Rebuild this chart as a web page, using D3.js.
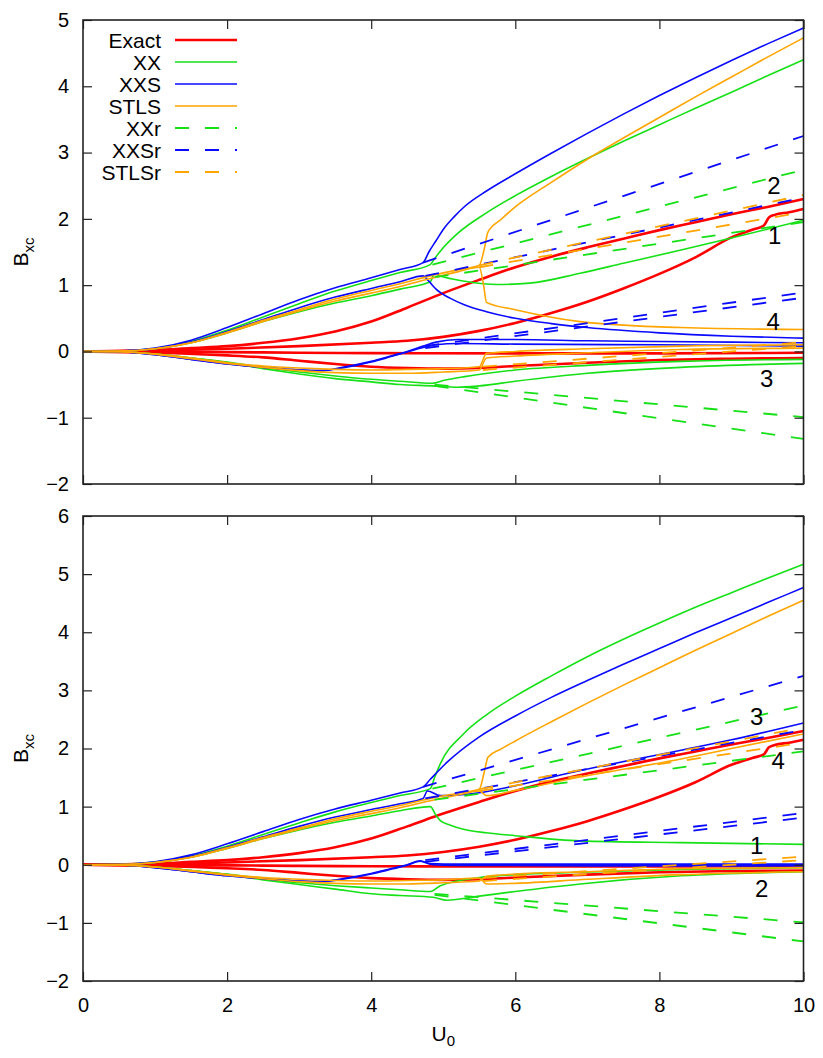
<!DOCTYPE html>
<html>
<head>
<meta charset="utf-8">
<script src="https://cdn.jsdelivr.net/npm/d3@7/dist/d3.min.js"></script>
<style>
  body { margin: 0; background: #fff; }
  text { font-family: "Liberation Sans", Arial, Helvetica, sans-serif; fill: #000; }
</style>
</head>
<body>
<svg id="chart" width="823" height="1058"></svg>
<script>
// ---- data (U0, Bxc) ----
const uTicks = [0, 2, 4, 6, 8, 10];
const topTicks = [-2, -1, 0, 1, 2, 3, 4, 5];
const botTicks = [-2, -1, 0, 1, 2, 3, 4, 5, 6];

// exact curves (same in both panels)
const exact1 = [[0,0],[1,0.02],[1.5,0.05],[2,0.08],[2.5,0.13],[3,0.2],[3.5,0.3],[4,0.45],[4.5,0.66],[5,0.88],[5.5,1.08],[6,1.27],[6.5,1.43],[7,1.57],[7.5,1.7],[8,1.83],[8.5,1.95],[9,2.07],[9.5,2.18],[10,2.3]];
const exact2 = [[0,0],[1,0.01],[2,0.04],[3,0.08],[4,0.13],[4.5,0.16],[5,0.22],[5.5,0.31],[6,0.43],[6.5,0.58],[7,0.75],[7.5,0.95],[8,1.17],[8.5,1.42],[9,1.72],[9.3,1.84],[9.45,1.9],[9.52,2.02],[9.6,2.06],[9.8,2.1],[10,2.15]];
const exact3 = [[0,0],[1,-0.005],[2,-0.01],[3,-0.02],[4,-0.025],[6,-0.03],[8,-0.03],[10,-0.02]];
const exact4 = [[0,0],[1,-0.02],[2,-0.06],[2.5,-0.09],[3,-0.14],[3.5,-0.19],[4,-0.23],[4.5,-0.25],[5,-0.26],[5.5,-0.25],[6,-0.22],[7,-0.17],[8,-0.13],[9,-0.11],[10,-0.1]];

// restricted (dashed) curves, same in both panels
const xxR1 = [[4.85,1.31],[10,2.74]];
const xxR2 = [[4.88,1.12],[10,1.95]];
const xxR3 = [[4.88,-0.5],[10,-0.99]];
const xxR4 = [[4.88,-0.52],[10,-1.32]];
const xxsR1 = [[4.72,1.34],[10,3.25]];
const xxsR2 = [[4.75,1.14],[10,2.32]];
const xxsR3 = [[4.75,0.08],[10,0.89]];
const xxsR4 = [[4.75,0.05],[10,0.81]];
const stlsR1 = [[5.5,1.3],[10,2.36]];
const stlsR2 = [[5.5,1.27],[10,2.1]];
const stlsR3 = [[5.55,-0.23],[10,0.14]];
const stlsR4 = [[5.55,-0.28],[10,0.08]];

// top panel, unrestricted
const xxTop1 = [[0,0],[0.5,0.005],[1,0.045],[1.5,0.15],[2,0.32],[2.5,0.52],[3,0.72],[3.5,0.91],[4,1.07],[4.4,1.19],[4.82,1.31],[4.88,1.4],[4.95,1.5],[5.2,1.78],[5.6,2.09],[6,2.35],[6.5,2.64],[7,2.91],[7.5,3.17],[8,3.42],[8.5,3.67],[9,3.91],[9.5,4.16],[10,4.4]];
const xxTop2 = [[0,0],[0.5,0.004],[1,0.04],[1.5,0.13],[2,0.28],[2.5,0.45],[3,0.6],[3.5,0.73],[4,0.84],[4.4,0.94],[4.82,1.05],[4.88,1.17],[4.95,1.14],[5.3,1.06],[5.75,1.01],[6.2,1.03],[6.9,1.18],[7.5,1.33],[8.3,1.53],[9,1.71],[10,1.98]];
const xxTop3 = [[0,0],[0.5,-0.004],[1,-0.04],[1.5,-0.1],[2,-0.16],[2.5,-0.24],[3,-0.31],[3.5,-0.37],[4,-0.42],[4.4,-0.45],[4.85,-0.48],[5,-0.44],[5.3,-0.38],[6,-0.28],[7,-0.21],[8.3,-0.15],[10,-0.12]];
const xxTop4 = [[0,0],[0.5,-0.004],[1,-0.04],[1.5,-0.1],[2,-0.17],[2.5,-0.26],[3,-0.34],[3.5,-0.41],[4,-0.46],[4.4,-0.5],[4.85,-0.52],[5.2,-0.54],[5.5,-0.52],[6,-0.45],[7,-0.33],[8.3,-0.24],[10,-0.18]];
const xxsTop1 = [[0,0],[0.5,0.005],[1,0.05],[1.5,0.17],[2,0.36],[2.5,0.57],[3,0.78],[3.5,0.96],[4,1.11],[4.4,1.235],[4.72,1.34],[4.8,1.5],[4.9,1.67],[5,1.84],[5.15,2.03],[5.3,2.19],[5.6,2.42],[6,2.68],[6.5,2.99],[7,3.29],[7.5,3.58],[8,3.86],[8.5,4.13],[9,4.39],[9.5,4.64],[10,4.88]];
const xxsTop2 = [[0,0],[0.5,0.005],[1,0.04],[1.5,0.14],[2,0.3],[2.5,0.48],[3,0.66],[3.5,0.82],[4,0.95],[4.4,1.05],[4.72,1.14],[4.8,1.06],[4.9,0.94],[5.1,0.8],[5.3,0.7],[5.6,0.6],[6,0.5],[6.5,0.42],[7,0.36],[8,0.28],[9,0.23],[10,0.2]];
const xxsTop3 = [[0,0],[0.5,-0.005],[1,-0.05],[1.5,-0.12],[2,-0.19],[2.5,-0.24],[3,-0.28],[3.3,-0.29],[3.6,-0.24],[4,-0.15],[4.3,-0.06],[4.5,0],[4.72,0.08],[4.9,0.14],[5.2,0.18],[6,0.18],[7,0.16],[8,0.15],[10,0.13]];
const xxsTop4 = [[0,0],[0.5,-0.005],[1,-0.05],[1.5,-0.12],[2,-0.19],[2.5,-0.24],[3,-0.28],[3.3,-0.29],[3.6,-0.25],[4,-0.16],[4.3,-0.07],[4.5,-0.01],[4.72,0.06],[4.9,0.1],[5.2,0.12],[6,0.11],[8,0.1],[10,0.08]];
const stlsTop1 = [[0,0],[0.5,0.004],[1,0.04],[1.5,0.13],[2,0.29],[2.5,0.47],[3,0.63],[3.5,0.79],[4,0.92],[4.4,1.02],[4.82,1.14],[5.2,1.23],[5.5,1.3],[5.57,1.55],[5.62,1.8],[5.8,1.99],[6,2.18],[6.5,2.55],[7,2.9],[7.5,3.22],[8,3.53],[8.5,3.84],[9,4.14],[9.5,4.44],[10,4.73]];
const stlsTop2 = [[0,0],[0.5,0.004],[1,0.04],[1.5,0.13],[2,0.28],[2.5,0.45],[3,0.61],[3.5,0.76],[4,0.88],[4.4,0.98],[4.82,1.1],[5.2,1.2],[5.5,1.27],[5.56,1.0],[5.6,0.74],[6,0.63],[6.9,0.45],[8.3,0.36],[10,0.33]];
const stlsTop3 = [[0,0],[0.5,-0.004],[1,-0.04],[1.5,-0.1],[2,-0.17],[2.5,-0.22],[3,-0.25],[3.5,-0.27],[4,-0.28],[4.5,-0.27],[5,-0.26],[5.5,-0.23],[5.6,-0.03],[6,0],[7,0.04],[8.3,0.08],[10,0.1]];
const stlsTop4 = [[0,0],[0.5,-0.004],[1,-0.04],[1.5,-0.11],[2,-0.18],[2.5,-0.24],[3,-0.29],[3.5,-0.32],[4,-0.33],[4.5,-0.33],[5,-0.31],[5.5,-0.28],[5.6,-0.1],[6,-0.07],[7,-0.02],[8.3,0.03],[10,0.05]];

// bottom panel, unrestricted
const xxBot1 = [[0,0],[0.5,0.005],[1,0.045],[1.5,0.15],[2,0.32],[2.5,0.52],[3,0.72],[3.5,0.91],[4,1.07],[4.4,1.19],[4.82,1.31],[4.88,1.5],[4.96,1.74],[5.28,2.25],[5.6,2.58],[6,2.9],[6.5,3.25],[7,3.58],[7.5,3.88],[8,4.16],[8.5,4.43],[9,4.68],[9.5,4.93],[10,5.17]];
const xxBot2 = [[0,0],[0.5,0.004],[1,0.04],[1.5,0.13],[2,0.28],[2.5,0.45],[3,0.6],[3.5,0.73],[4,0.84],[4.4,0.93],[4.82,1.0],[4.9,0.85],[4.96,0.76],[5.1,0.68],[5.28,0.61],[5.6,0.55],[6,0.5],[6.9,0.41],[8.3,0.38],[10,0.35]];
const xxBot3 = [[0,0],[0.5,-0.004],[1,-0.04],[1.5,-0.1],[2,-0.16],[2.5,-0.24],[3,-0.31],[3.5,-0.36],[4,-0.4],[4.4,-0.43],[4.82,-0.46],[4.96,-0.36],[5.5,-0.22],[6,-0.17],[6.9,-0.13],[8.3,-0.08],[10,-0.05]];
const xxBot4 = [[0,0],[0.5,-0.004],[1,-0.04],[1.5,-0.1],[2,-0.17],[2.5,-0.26],[3,-0.34],[3.5,-0.42],[4,-0.5],[4.4,-0.53],[4.86,-0.56],[5.05,-0.61],[5.5,-0.54],[6,-0.46],[6.9,-0.33],[8.3,-0.19],[10,-0.12]];
const xxsBot1 = [[0,0],[0.5,0.005],[1,0.05],[1.5,0.17],[2,0.36],[2.5,0.57],[3,0.78],[3.5,0.96],[4,1.11],[4.4,1.235],[4.72,1.34],[4.82,1.47],[5.05,1.76],[5.5,2.2],[6,2.56],[6.5,2.88],[7,3.17],[7.5,3.45],[8,3.72],[8.5,3.99],[9,4.25],[9.5,4.51],[10,4.77]];
const xxsBot2 = [[0,0],[0.5,0.005],[1,0.04],[1.5,0.14],[2,0.3],[2.5,0.48],[3,0.66],[3.5,0.82],[4,0.95],[4.4,1.05],[4.72,1.14],[4.78,1.27],[4.96,1.19],[5.5,1.24],[6,1.36],[6.9,1.62],[8.3,1.97],[9,2.15],[10,2.44]];
const xxsBot3 = [[0,0],[0.5,-0.005],[1,-0.05],[1.5,-0.12],[2,-0.19],[2.5,-0.24],[3,-0.28],[3.3,-0.29],[3.6,-0.24],[4,-0.15],[4.3,-0.06],[4.5,0],[4.68,0.07],[4.82,0.02],[5.2,0.01],[8,0.01],[10,0.01]];
const xxsBot4 = [[0,0],[0.5,-0.005],[1,-0.05],[1.5,-0.12],[2,-0.19],[2.5,-0.24],[3,-0.28],[3.3,-0.29],[3.6,-0.25],[4,-0.16],[4.3,-0.07],[4.5,-0.01],[4.68,0.06],[4.85,0],[5.2,-0.01],[8,-0.02],[10,-0.02]];
const stlsBot1 = [[0,0],[0.5,0.004],[1,0.04],[1.5,0.13],[2,0.29],[2.5,0.47],[3,0.63],[3.5,0.79],[4,0.92],[4.4,1.02],[4.82,1.14],[5.2,1.23],[5.5,1.3],[5.57,1.6],[5.62,1.85],[5.8,1.99],[6,2.13],[6.5,2.46],[7,2.78],[7.5,3.09],[8,3.39],[8.5,3.69],[9,3.98],[9.5,4.27],[10,4.55]];
const stlsBot2 = [[0,0],[0.5,0.004],[1,0.04],[1.5,0.13],[2,0.28],[2.5,0.45],[3,0.61],[3.5,0.76],[4,0.88],[4.4,0.98],[4.82,1.1],[5.2,1.2],[5.5,1.27],[5.6,1.19],[6,1.28],[6.9,1.51],[8.3,1.82],[9,2.0],[10,2.25]];
const stlsBot3 = [[0,0],[0.5,-0.004],[1,-0.04],[1.5,-0.1],[2,-0.17],[2.5,-0.22],[3,-0.25],[3.5,-0.27],[4,-0.28],[4.5,-0.27],[5,-0.26],[5.5,-0.23],[5.6,-0.33],[6,-0.32],[7,-0.25],[8.3,-0.17],[10,-0.12]];
const stlsBot4 = [[0,0],[0.5,-0.004],[1,-0.04],[1.5,-0.11],[2,-0.18],[2.5,-0.24],[3,-0.29],[3.5,-0.32],[4,-0.33],[4.5,-0.33],[5,-0.31],[5.5,-0.28],[5.6,-0.2],[6,-0.16],[7,-0.12],[8.3,-0.07],[10,-0.05]];

// state labels [text, U0, Bxc]
const topLabels = [["2",9.59,2.5],["1",9.6,1.75],["4",9.58,0.46],["3",9.49,-0.4]];
const botLabels = [["3",9.35,2.55],["4",9.65,1.79],["1",9.35,0.33],["2",9.42,-0.4]];

const legendNames = ["Exact", "XX", "XXS", "STLS", "XXr", "XXSr", "STLSr"];

// ---- styles ----
const RED = "#ff0000", GREEN = "#16e016", BLUE = "#0a0aff", ORANGE = "#ffa500";
const styles = {
  Exact: { color: RED, width: 2.6, dash: null },
  XX: { color: GREEN, width: 1.6, dash: null },
  XXS: { color: BLUE, width: 1.6, dash: null },
  STLS: { color: ORANGE, width: 1.6, dash: null },
  XXr: { color: GREEN, width: 1.8, dash: "14,16" },
  XXSr: { color: BLUE, width: 1.8, dash: "14,16" },
  STLSr: { color: ORANGE, width: 1.8, dash: "14,16" }
};

const exactAll = [exact1, exact2, exact3, exact4];
const restricted = {
  XXr: [xxR1, xxR2, xxR3, xxR4],
  XXSr: [xxsR1, xxsR2, xxsR3, xxsR4],
  STLSr: [stlsR1, stlsR2, stlsR3, stlsR4]
};

const svg = d3.select("#chart");
const x = d3.scaleLinear().domain([0, 10]).range([83, 803.5]);

function drawPanel(yDomain, yRange, ticks, series, labels, opts) {
  const y = d3.scaleLinear().domain(yDomain).range(yRange);
  const g = svg.append("g");
  const line = d3.line()
    .x(d => x(d[0]))
    .y(d => y(d[1]))
    .curve(d3.curveMonotoneX);

  // curves in legend order
  legendNames.forEach(name => {
    const st = styles[name];
    (series[name] || []).forEach(data => {
      g.append("path")
        .datum(data)
        .attr("d", line)
        .attr("fill", "none")
        .attr("stroke", st.color)
        .attr("stroke-width", st.width)
        .attr("stroke-dasharray", st.dash)
        .attr("stroke-linejoin", "round");
    });
  });

  // axes with inward ticks
  const left = g.append("g")
    .attr("transform", `translate(${x.range()[0]},0)`)
    .call(d3.axisLeft(y).tickValues(ticks).tickSize(-9).tickPadding(14).tickFormat(d3.format("d")));
  const right = g.append("g")
    .attr("transform", `translate(${x.range()[1]},0)`)
    .call(d3.axisRight(y).tickValues(ticks).tickSize(-9).tickFormat(""));
  const top = g.append("g")
    .attr("transform", `translate(0,${yRange[1]})`)
    .call(d3.axisTop(x).tickValues(uTicks).tickSize(-9).tickFormat(""));
  const bottom = g.append("g")
    .attr("transform", `translate(0,${yRange[0]})`)
    .call(d3.axisBottom(x).tickValues(uTicks).tickSize(-9).tickPadding(17)
      .tickFormat(opts.xLabels ? d3.format("d") : ""));

  [left, right, top, bottom].forEach(a => {
    a.select(".domain").remove();
    a.selectAll("line").attr("stroke", "#222").attr("stroke-width", 1.2);
    a.selectAll("text")
      .attr("font-family", "'Liberation Sans', Arial, sans-serif")
      .attr("font-size", 20)
      .attr("fill", "#000");
  });

  g.append("rect")
    .attr("x", x.range()[0])
    .attr("y", yRange[1])
    .attr("width", x.range()[1] - x.range()[0])
    .attr("height", yRange[0] - yRange[1])
    .attr("fill", "none")
    .attr("stroke", "#222")
    .attr("stroke-width", 1.6);

  // state labels
  g.selectAll("text.state")
    .data(labels)
    .enter()
    .append("text")
    .attr("class", "state")
    .attr("x", d => x(d[1]))
    .attr("y", d => y(d[2]))
    .attr("dy", "0.36em")
    .attr("text-anchor", "middle")
    .attr("font-size", 24)
    .text(d => d[0]);

  // y label B_xc
  const yl = g.append("text")
    .attr("transform", `translate(28,${(yRange[0] + yRange[1]) / 2}) rotate(-90)`)
    .attr("text-anchor", "middle")
    .attr("font-size", 21);
  yl.append("tspan").text("B");
  yl.append("tspan").attr("font-size", 15).attr("dy", 6).text("xc");

  return g;
}

drawPanel([-2, 5], [484, 20], topTicks, {
  Exact: exactAll,
  XX: [xxTop1, xxTop2, xxTop3, xxTop4],
  XXS: [xxsTop1, xxsTop2, xxsTop3, xxsTop4],
  STLS: [stlsTop1, stlsTop2, stlsTop3, stlsTop4],
  ...restricted
}, topLabels, { xLabels: false });

drawPanel([-2, 6], [981, 516], botTicks, {
  Exact: exactAll,
  XX: [xxBot1, xxBot2, xxBot3, xxBot4],
  XXS: [xxsBot1, xxsBot2, xxsBot3, xxsBot4],
  STLS: [stlsBot1, stlsBot2, stlsBot3, stlsBot4],
  ...restricted
}, botLabels, { xLabels: true });

// x label U_0
const xl = svg.append("text")
  .attr("x", (x.range()[0] + x.range()[1]) / 2)
  .attr("y", 1041)
  .attr("text-anchor", "middle")
  .attr("font-size", 21);
xl.append("tspan").text("U");
xl.append("tspan").attr("font-size", 15).attr("dy", 5).text("0");

// legend (top panel)
const legend = svg.append("g");
const rowY = i => 40 + i * 22;
legendNames.forEach((name, i) => {
  const st = styles[name];
  legend.append("text")
    .attr("x", 161)
    .attr("y", rowY(i))
    .attr("dy", "0.36em")
    .attr("text-anchor", "end")
    .attr("font-size", 21)
    .text(name);
  legend.append("line")
    .attr("x1", 175).attr("x2", 237)
    .attr("y1", rowY(i)).attr("y2", rowY(i))
    .attr("stroke", st.color)
    .attr("stroke-width", st.width)
    .attr("stroke-dasharray", st.dash);
});
</script>
</body>
</html>
